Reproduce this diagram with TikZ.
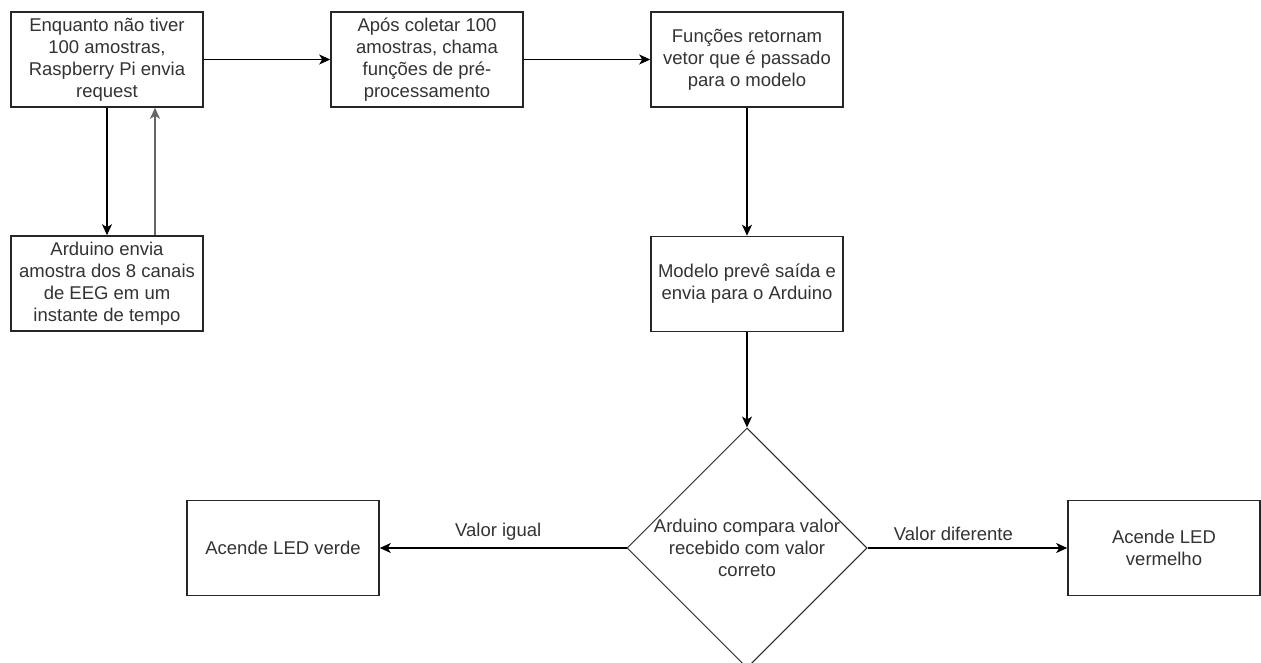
\documentclass[tikz,border=0pt]{standalone}
\usepackage{fontspec}
\setmainfont{Liberation Sans}
\usetikzlibrary{arrows.meta,shapes.geometric}

\begin{document}
\begin{tikzpicture}[
  x=1pt, y=-1pt,
  font=\fontsize{18.5}{22}\selectfont,
  box/.style={rectangle, draw=black!85, line width=1.6pt, fill=white,
              minimum width=192pt, minimum height=95pt, align=center,
              text=black!80},
  dec/.style={diamond, draw=black!85, line width=1pt, inner sep=0pt,
              minimum width=240pt, minimum height=240pt},
  ar/.style={-{Stealth[length=11pt, width=10pt, inset=3pt]}, line width=1.3pt},
  lbl/.style={text=black!80, fill=white, inner sep=1pt}
]
\useasboundingbox (0,0) rectangle (1261,663);

% top row
\node[box] (req) at (107,59.5)  {Enquanto não tiver\\100 amostras,\\Raspberry Pi envia\\request};
\node[box] (pre) at (427,59.5)  {Após coletar 100\\amostras, chama\\funções de pré-\\processamento};
\node[box] (vet) at (747,59.5)  {Funções retornam\\vetor que é passado\\para o modelo};
\draw[ar] (req) -- (pre);
\draw[ar] (pre) -- (vet);

% sampling loop
\node[box] (ard) at (107,283.5) {Arduino envia\\amostra dos 8 canais\\de EEG em um\\instante de tempo};
\draw[ar] (req.south) -- (ard.north);
\draw[ar, black!60] ([xshift=48pt]ard.north) -- ([xshift=48pt]req.south);

% model
\node[box] (mod) at (747,284)   {Modelo prevê saída e\\envia para o Arduino};
\draw[ar] (vet) -- (mod);

% decision
\node[dec] (cmp) at (747,548) {};
\node[text=black!80, align=center] (cmpt) at (cmp.center) {Arduino compara valor\\recebido com valor\\correto};
\draw[ar] (mod) -- (cmp.north);

\node[box] (grn) at (283,548) {Acende LED verde};
\node[box] (red) at (1164,548) {Acende LED\\vermelho};
\draw[ar] (cmp.west) -- node[lbl, pos=0.52, above=6pt] {Valor igual} (grn);
\draw[ar] (cmp.east) -- node[lbl, pos=0.43, above=6pt] {Valor diferente} (red);
\end{tikzpicture}
\end{document}
